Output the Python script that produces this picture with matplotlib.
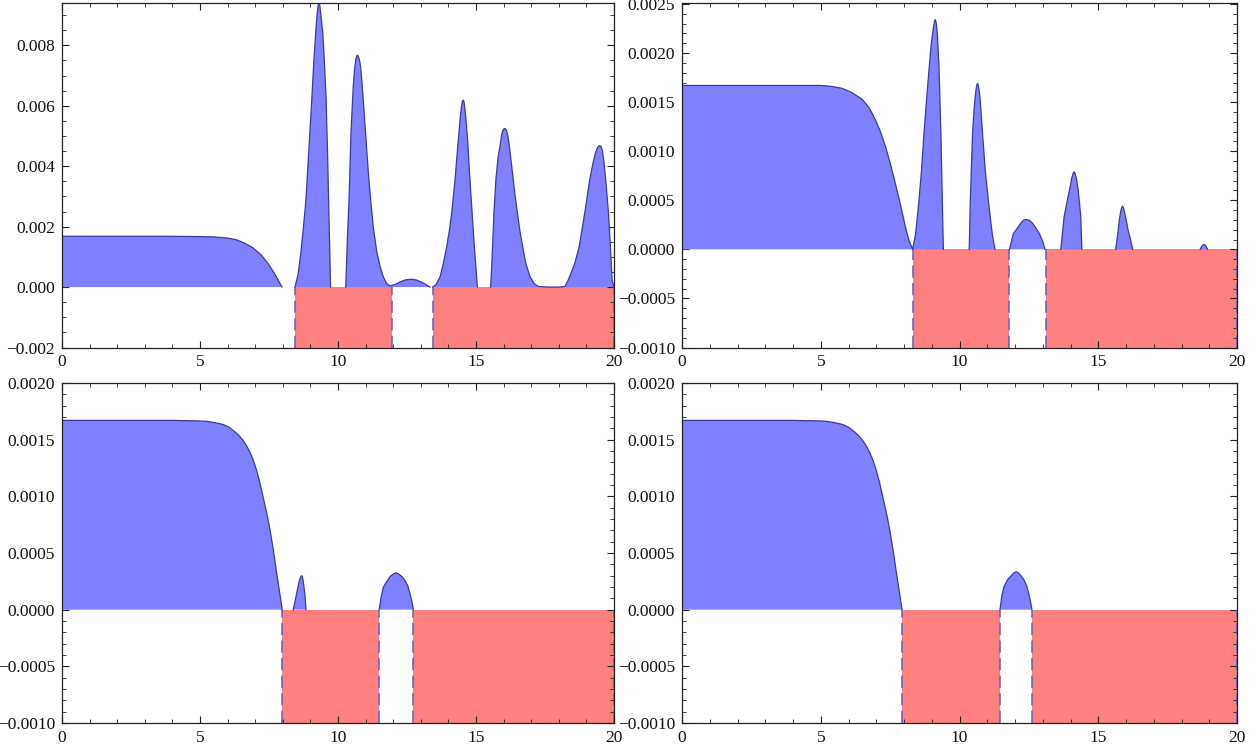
import numpy as np
import matplotlib
matplotlib.use("Agg")
import matplotlib.pyplot as plt
from matplotlib.ticker import MultipleLocator, FixedLocator

nan = np.nan

# ---------------- data ----------------
# Panel 1 (top-left); segments separated by nan
tl_x = [0, 1, 2, 3, 4, 5, 5.5, 6.0, 6.3, 6.6, 6.9, 7.2, 7.45, 7.7, 7.97, nan,
        8.44, 8.55, 8.65, 8.75, 8.84, 8.95, 9.05, 9.12, 9.19, 9.24, 9.28, 9.31, 9.34, 9.38, 9.45, 9.51, 9.57, 9.62, 9.66, 9.70, 9.73, nan,
        10.28, 10.34, 10.40, 10.47, 10.55, 10.60, 10.64, 10.68, 10.71, 10.74, 10.78, 10.82, 10.90, 11.00, 11.09, 11.18, 11.29, 11.40,
        11.52, 11.64, 11.76, 11.88, 12.05, 12.25, 12.45, 12.67, 12.85, 13.0, 13.15, 13.33, nan,
        13.43, 13.55, 13.70, 13.82, 13.94, 14.04, 14.12, 14.24, 14.34, 14.42, 14.47, 14.51, 14.54, 14.57, 14.61, 14.66, 14.71, 14.78, 14.86, 14.94, 15.00, 15.05, nan,
        15.53, 15.57, 15.60, 15.65, 15.72, 15.80, 15.87, 15.93, 15.99, 16.05, 16.10, 16.16, 16.21, 16.28, 16.35, 16.42, 16.50, 16.60, 16.69,
        16.80, 16.96, 17.10, 17.26, 17.6, 18.0, 18.22, 18.34, 18.46, 18.58, 18.74, 18.84, 18.94, 19.03, 19.12, 19.24, 19.33,
        19.40, 19.45, 19.49, 19.53, 19.58, 19.64, 19.70, 19.75, 19.80, 19.87, 19.93, 20.0]
tl_y = [0.00168, 0.00168, 0.00168, 0.00168, 0.00168, 0.00167, 0.00166, 0.00162, 0.00157, 0.00146, 0.00131, 0.00108, 0.00080, 0.00045, 0.0, nan,
        0.0, 0.0004, 0.0011, 0.0020, 0.0029, 0.0046, 0.0062, 0.0074, 0.0084, 0.0090, 0.00932, 0.0094, 0.00932, 0.0090, 0.0084, 0.0074, 0.0062, 0.0045, 0.0029, 0.0013, 0.0, nan,
        0.0, 0.0016, 0.0029, 0.0051, 0.0066, 0.0072, 0.00752, 0.00765, 0.00767, 0.00763, 0.0075, 0.0073, 0.0064, 0.0051, 0.0039, 0.0029, 0.0019, 0.0012,
        0.0007, 0.00034, 0.00012, 0.00004, 0.00008, 0.00017, 0.00024, 0.00026, 0.00023, 0.00017, 0.0001, 0.0, nan,
        0.0, 0.00008, 0.00034, 0.0008, 0.00134, 0.0019, 0.00245, 0.00355, 0.00466, 0.0055, 0.00596, 0.00615, 0.00619, 0.00612, 0.0058, 0.0053, 0.00466, 0.00355, 0.00245, 0.00134, 0.0006, 0.0, nan,
        0.0, 0.0007, 0.00134, 0.00245, 0.00355, 0.0043, 0.00466, 0.00505, 0.00522, 0.00525, 0.0052, 0.00498, 0.00466, 0.0041, 0.00355, 0.0030, 0.00245, 0.0018, 0.00134,
        0.0008, 0.00034, 0.00012, 0.00002, 0.0, 0.0, 0.00002, 0.00023, 0.0005, 0.00079, 0.00134, 0.0019, 0.00245, 0.0030, 0.00355, 0.00411, 0.00445,
        0.00461, 0.00467, 0.00468, 0.00465, 0.00452, 0.00411, 0.00355, 0.0030, 0.00245, 0.00134, 0.00023, 0.0]
tl_red_start = [8.44, 13.43]
tl_red_end = [11.95, 20.0]

# Panel 2 (top-right)
tr_x = [0, 1, 2, 3, 4, 5, 5.4, 5.77, 6.1, 6.49, 6.75, 6.97, 7.15, 7.33, 7.5, 7.69, 7.86, 8.05, 8.18, 8.31,
        8.42, 8.54, 8.63, 8.72, 8.82, 8.91, 8.97, 9.03, 9.07, 9.10, 9.12, 9.14, 9.17, 9.20, 9.26, 9.33, 9.38, 9.42, nan,
        10.35, 10.39, 10.47, 10.54, 10.59, 10.62, 10.65, 10.68, 10.71, 10.75, 10.83, 10.93, 11.04, 11.12, 11.18, 11.24, 11.28, nan,
        11.80, 11.94, 12.12, 12.22, 12.32, 12.42, 12.52, 12.62, 12.72, 12.88, 13.0, 13.08, nan,
        13.65, 13.77, 13.87, 13.96, 14.04, 14.09, 14.13, 14.17, 14.22, 14.28, 14.37, 14.41, nan,
        15.63, 15.69, 15.76, 15.82, 15.85, 15.88, 15.91, 15.96, 16.08, 16.17, 16.24, nan,
        18.67, 18.75, 18.81, 18.87, 18.94]
tr_y = [0.00167, 0.00167, 0.00167, 0.00167, 0.00167, 0.00167, 0.00166, 0.00164, 0.00160, 0.00153, 0.00144, 0.00132, 0.00120, 0.00105, 0.00088, 0.00067, 0.00047, 0.00023, 0.00009, 0.0,
        0.00016, 0.0005, 0.0008, 0.00118, 0.00155, 0.00186, 0.00206, 0.0022, 0.00228, 0.00232, 0.00234, 0.00233, 0.00229, 0.0022, 0.00186, 0.00118, 0.0005, 0.0, nan,
        0.0, 0.0005, 0.00118, 0.00148, 0.00162, 0.00167, 0.00169, 0.00167, 0.00162, 0.00151, 0.00118, 0.0008, 0.0005, 0.0003, 0.00016, 0.00006, 0.0, nan,
        0.0, 0.00016, 0.00023, 0.00027, 0.00030, 0.000303, 0.000295, 0.00027, 0.00023, 0.00016, 0.00008, 0.0, nan,
        0.0, 0.00033, 0.00048, 0.0006, 0.00072, 0.00077, 0.00079, 0.00077, 0.00071, 0.0006, 0.00033, 0.0, nan,
        0.0, 0.00013, 0.0003, 0.0004, 0.00043, 0.00044, 0.00042, 0.000365, 0.00019, 0.00009, 0.0, nan,
        0.0, 0.00004, 0.00005, 0.00004, 0.0]
tr_red_start = [8.31, 13.10]
tr_red_end = [11.78, 20.0]

# Panel 3 (bottom-left)
bl_x = [0, 1, 2, 3, 4, 5, 5.24, 5.55, 5.85, 6.05, 6.21, 6.40, 6.57, 6.70, 6.81, 6.93, 7.05, 7.17, 7.29, 7.42, 7.54, 7.66, 7.78, 7.88, 7.98, nan,
        8.38, 8.50, 8.60, 8.65, 8.68, 8.71, 8.74, 8.80, 8.84, nan,
        11.49, 11.57, 11.64, 11.72, 11.79, 11.88, 11.95, 12.03, 12.10, 12.17, 12.25, 12.34, 12.43, 12.53, 12.61, 12.68, 12.73]
bl_y = [0.00167, 0.00167, 0.00167, 0.00167, 0.00167, 0.001665, 0.001662, 0.00165, 0.001633, 0.00161, 0.00158, 0.00154, 0.00149, 0.00144, 0.00139, 0.00132, 0.00123, 0.00112, 0.00099, 0.00085, 0.0007, 0.00052, 0.00032, 0.00016, 0.0, nan,
        0.0, 0.00014, 0.00026, 0.00029, 0.0003, 0.00029, 0.00025, 0.00014, 0.0, nan,
        0.0, 0.00012, 0.000197, 0.00023, 0.000256, 0.00029, 0.000305, 0.000318, 0.000324, 0.000319, 0.000305, 0.000285, 0.000256, 0.00021, 0.000138, 0.00007, 0.0]
bl_red_start = [7.98, 12.73]
bl_red_end = [11.49, 20.0]

# Panel 4 (bottom-right)
br_x = [0, 1, 2, 3, 4, 5, 5.2, 5.5, 5.8, 6.0, 6.16, 6.35, 6.52, 6.65, 6.76, 6.88, 7.0, 7.12, 7.24, 7.37, 7.49, 7.61, 7.73, 7.83, 7.93, nan,
        11.46, 11.53, 11.60, 11.68, 11.75, 11.83, 11.90, 11.97, 12.04, 12.11, 12.18, 12.26, 12.33, 12.42, 12.50, 12.56, 12.61]
br_y = [0.00167, 0.00167, 0.00167, 0.00167, 0.00167, 0.001665, 0.001662, 0.00165, 0.001633, 0.00161, 0.00158, 0.00154, 0.00149, 0.00144, 0.00139, 0.00132, 0.00123, 0.00112, 0.00099, 0.00085, 0.0007, 0.00052, 0.00032, 0.00016, 0.0, nan,
        0.0, 0.00013, 0.0002, 0.00024, 0.00027, 0.00029, 0.00031, 0.000325, 0.000335, 0.000327, 0.00031, 0.000285, 0.00026, 0.00021, 0.00014, 0.00007, 0.0]
br_red_start = [7.93, 12.61]
br_red_end = [11.46, 20.0]

x_ticks = [0, 5, 10, 15, 20]
tl_yticks = [-0.002, 0.000, 0.002, 0.004, 0.006, 0.008]
tl_ylabels = ["\u22120.002", "0.000", "0.002", "0.004", "0.006", "0.008"]
tr_yticks = [-0.0010, -0.0005, 0.0, 0.0005, 0.0010, 0.0015, 0.0020, 0.0025]
tr_ylabels = ["\u22120.0010", "\u22120.0005", "0.0000", "0.0005", "0.0010", "0.0015", "0.0020", "0.0025"]
b_yticks = [-0.0010, -0.0005, 0.0, 0.0005, 0.0010, 0.0015, 0.0020]
b_ylabels = ["\u22120.0010", "\u22120.0005", "0.0000", "0.0005", "0.0010", "0.0015", "0.0020"]

# ---------------- styling ----------------
plt.rcParams['font.family'] = ['Liberation Serif', 'DejaVu Serif']
plt.rcParams['font.size'] = 12

BLUE_FILL = '#8080ff'
BLUE_LINE = '#3a3a9c'
RED_FILL = '#ff8080'
DASH_COL = '#5f5fc0'

W, H = 1260, 751
fig = plt.figure(figsize=(W / 100, H / 100), dpi=100)


def make_ax(l, r, t, b):
    return fig.add_axes([l / W, 1 - b / H, (r - l) / W, (b - t) / H])


def draw(ax, xs, ys, rs, re, ylim, yticks, ylabels, yminor):
    xs = np.array(xs, dtype=float)
    ys = np.array(ys, dtype=float)
    ymin, ymax = ylim
    for a, b in zip(rs, re):
        ax.fill_between([a, b], [ymin, ymin], [0, 0], color=RED_FILL, lw=0, zorder=1)
        ax.vlines([a, b], ymin, 0, colors=DASH_COL, linestyles=(0, (8, 3.5)), lw=1.1, zorder=2)
    ax.fill_between(xs, 0, ys, color=BLUE_FILL, lw=0, zorder=3)
    ax.plot(xs, ys, color=BLUE_LINE, lw=0.9, zorder=4, solid_joinstyle='round')
    ax.set_xlim(0, 20)
    ax.set_ylim(ymin, ymax)
    ax.xaxis.set_major_locator(FixedLocator(x_ticks))
    ax.set_xticklabels([str(v) for v in x_ticks])
    ax.xaxis.set_minor_locator(MultipleLocator(1))
    ax.yaxis.set_major_locator(FixedLocator(yticks))
    ax.set_yticklabels(ylabels)
    ax.yaxis.set_minor_locator(MultipleLocator(yminor))
    ax.tick_params(which='both', direction='in', top=True, right=True, color='#222222')
    ax.tick_params(which='major', length=5, width=0.8, pad=5, labelsize=12.5, labelcolor='#111111')
    ax.tick_params(which='minor', length=2.8, width=0.6)
    for s in ax.spines.values():
        s.set_linewidth(0.9)
        s.set_color('#222222')
        s.set_zorder(6)


ax1 = make_ax(62, 614, 3, 347.5)
draw(ax1, tl_x, tl_y, tl_red_start, tl_red_end, (-0.002, 0.0094), tl_yticks, tl_ylabels, 0.0005)
ax2 = make_ax(682, 1237, 3, 347.5)
draw(ax2, tr_x, tr_y, tr_red_start, tr_red_end, (-0.001, 0.00251), tr_yticks, tr_ylabels, 0.0001)
ax3 = make_ax(62, 614, 383, 723)
draw(ax3, bl_x, bl_y, bl_red_start, bl_red_end, (-0.001, 0.002), b_yticks, b_ylabels, 0.0001)
ax4 = make_ax(682, 1237, 383, 723)
draw(ax4, br_x, br_y, br_red_start, br_red_end, (-0.001, 0.002), b_yticks, b_ylabels, 0.0001)

fig.savefig('out.png', dpi=100)
